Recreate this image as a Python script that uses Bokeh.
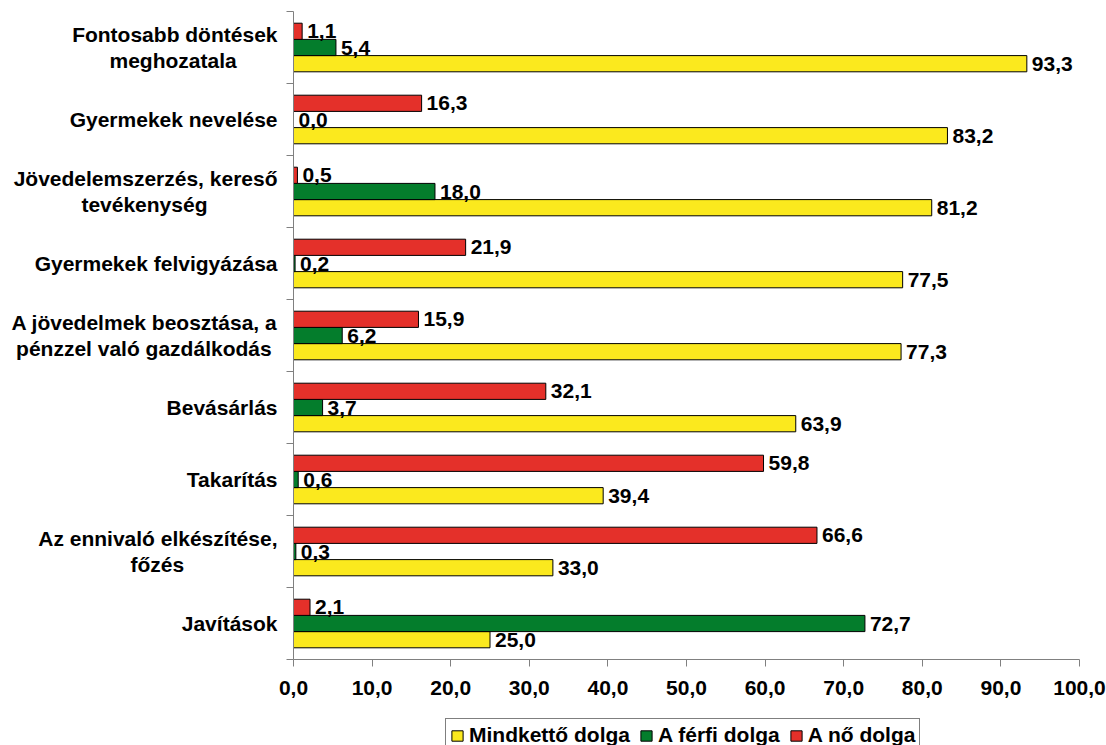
from bokeh.plotting import figure
from bokeh.models import (ColumnDataSource, Range1d, FixedTicker, Legend, LegendItem)
from bokeh.layouts import column
from bokeh.core.properties import value
from bokeh.embed import file_html
from bokeh.resources import INLINE

# ---- data (top to bottom) ----
categories = [
    "Fontosabb döntések\nmeghozatala",
    "Gyermekek nevelése",
    "Jövedelemszerzés, kereső\ntevékenység",
    "Gyermekek felvigyázása",
    "A jövedelmek beosztása, a\npénzzel való gazdálkodás",
    "Bevásárlás",
    "Takarítás",
    "Az ennivaló elkészítése,\nfőzés",
    "Javítások",
]
mindketto = [93.3, 83.2, 81.2, 77.5, 77.3, 63.9, 39.4, 33.0, 25.0]
ferfi = [5.4, 0.0, 18.0, 0.2, 6.2, 3.7, 0.6, 0.3, 72.7]
no = [1.1, 16.3, 0.5, 21.9, 15.9, 32.1, 59.8, 66.6, 2.1]
series_names = ["Mindkettő dolga", "A férfi dolga", "A nő dolga"]
x_ticks = [0, 10, 20, 30, 40, 50, 60, 70, 80, 90, 100]

# ---- styles / layout ----
FONT = "Liberation Sans"
FS = "21px"
colors = ["#FBE91E", "#047D2C", "#E4302A"]
AXIS_COLOR = "#808080"
NBSP = "\u00a0"
# trailing pad (in no-break spaces) so the 2nd line sits centred under the 1st
second_line_pad = {0: 7, 2: 12, 4: 1, 7: 16}


def fmt(v):
    return f"{v:.1f}".replace(".", ",")


n = len(categories)
centers = [n - 0.5 - i for i in range(n)]
boundaries = list(range(n + 1))
bar_h = 0.225
shifts = [-bar_h, 0.0, bar_h]  # yellow lowest, green middle, red top

p = figure(width=1106, height=712, output_backend="svg", toolbar_location=None,
           x_range=Range1d(0, 100), y_range=Range1d(0, n),
           min_border_left=293, min_border_right=27, min_border_top=11, min_border_bottom=53)
p.outline_line_color = None
p.grid.grid_line_color = None

sources = []
renderers = []
for vals, col, sh in zip([mindketto, ferfi, no], colors, shifts):
    src = ColumnDataSource(dict(y=[c + sh for c in centers], right=vals,
                                lab=[fmt(v) for v in vals]))
    sources.append(src)
    r = p.hbar(y="y", right="right", left=0, height=bar_h, source=src,
               fill_color=col, line_color="black", line_width=1)
    renderers.append(r)
    p.text(x="right", y="y", text="lab", source=src, x_offset=5,
           text_align="left", text_baseline="middle",
           text_font=value(FONT), text_font_size=FS, text_font_style="bold",
           text_color="black")

# x axis
xa = p.xaxis[0]
xa.ticker = FixedTicker(ticks=x_ticks)
xa.major_label_overrides = {t: fmt(t) for t in x_ticks}
xa.major_label_text_font = FONT
xa.major_label_text_font_size = FS
xa.major_label_text_font_style = "bold"
xa.major_label_text_color = "black"
xa.major_label_standoff = 14
xa.axis_line_color = AXIS_COLOR
xa.major_tick_line_color = AXIS_COLOR
xa.major_tick_in = 0
xa.major_tick_out = 7
xa.minor_tick_line_color = None

# y axis: labels at category centres, tick marks at band boundaries (minor ticks)
labels = {}
for i, (cat, c) in enumerate(zip(categories, centers)):
    txt = cat
    if i in second_line_pad:
        txt = txt + NBSP * second_line_pad[i]
    labels[c] = txt
ya = p.yaxis[0]
ya.ticker = FixedTicker(ticks=centers, minor_ticks=boundaries)
ya.major_label_overrides = labels
ya.major_label_text_font = FONT
ya.major_label_text_font_size = FS
ya.major_label_text_font_style = "bold"
ya.major_label_text_color = "black"
ya.major_label_text_line_height = 1.12
ya.major_tick_line_color = None
ya.major_tick_in = 0
ya.major_tick_out = 0
ya.major_label_standoff = 9
ya.axis_line_color = AXIS_COLOR
ya.minor_tick_line_color = AXIS_COLOR
ya.minor_tick_in = 0
ya.minor_tick_out = 7

# ---- legend strip below (its glyphs lie outside its own view) ----
q = figure(width=1106, height=33, output_backend="svg", toolbar_location=None,
           x_range=Range1d(0, 100), y_range=Range1d(1000, 1001),
           x_axis_type=None, y_axis_type=None,
           min_border_left=0, min_border_right=0, min_border_top=0, min_border_bottom=0)
q.outline_line_color = None
q.grid.grid_line_color = None
leg_renderers = []
for src, col in zip(sources, colors):
    leg_renderers.append(q.hbar(y="y", right="right", left=0, height=bar_h, source=src,
                                fill_color=col, line_color="black", line_width=1))
legend = Legend(items=[LegendItem(label=nm, renderers=[r]) for nm, r in zip(series_names, leg_renderers)],
                orientation="horizontal", location=(152, -7))
legend.label_text_font = FONT
legend.label_text_font_size = FS
legend.label_text_font_style = "bold"
legend.label_text_color = "black"
legend.glyph_width = 14
legend.glyph_height = 13
legend.label_standoff = 5
legend.spacing = 9
legend.padding = 4
legend.margin = 0
legend.border_line_color = "black"
legend.border_line_width = 1
legend.background_fill_alpha = 1
q.add_layout(legend, "center")

layout = column(p, q, spacing=0)
open("out.html", "w").write(file_html(layout, INLINE))
